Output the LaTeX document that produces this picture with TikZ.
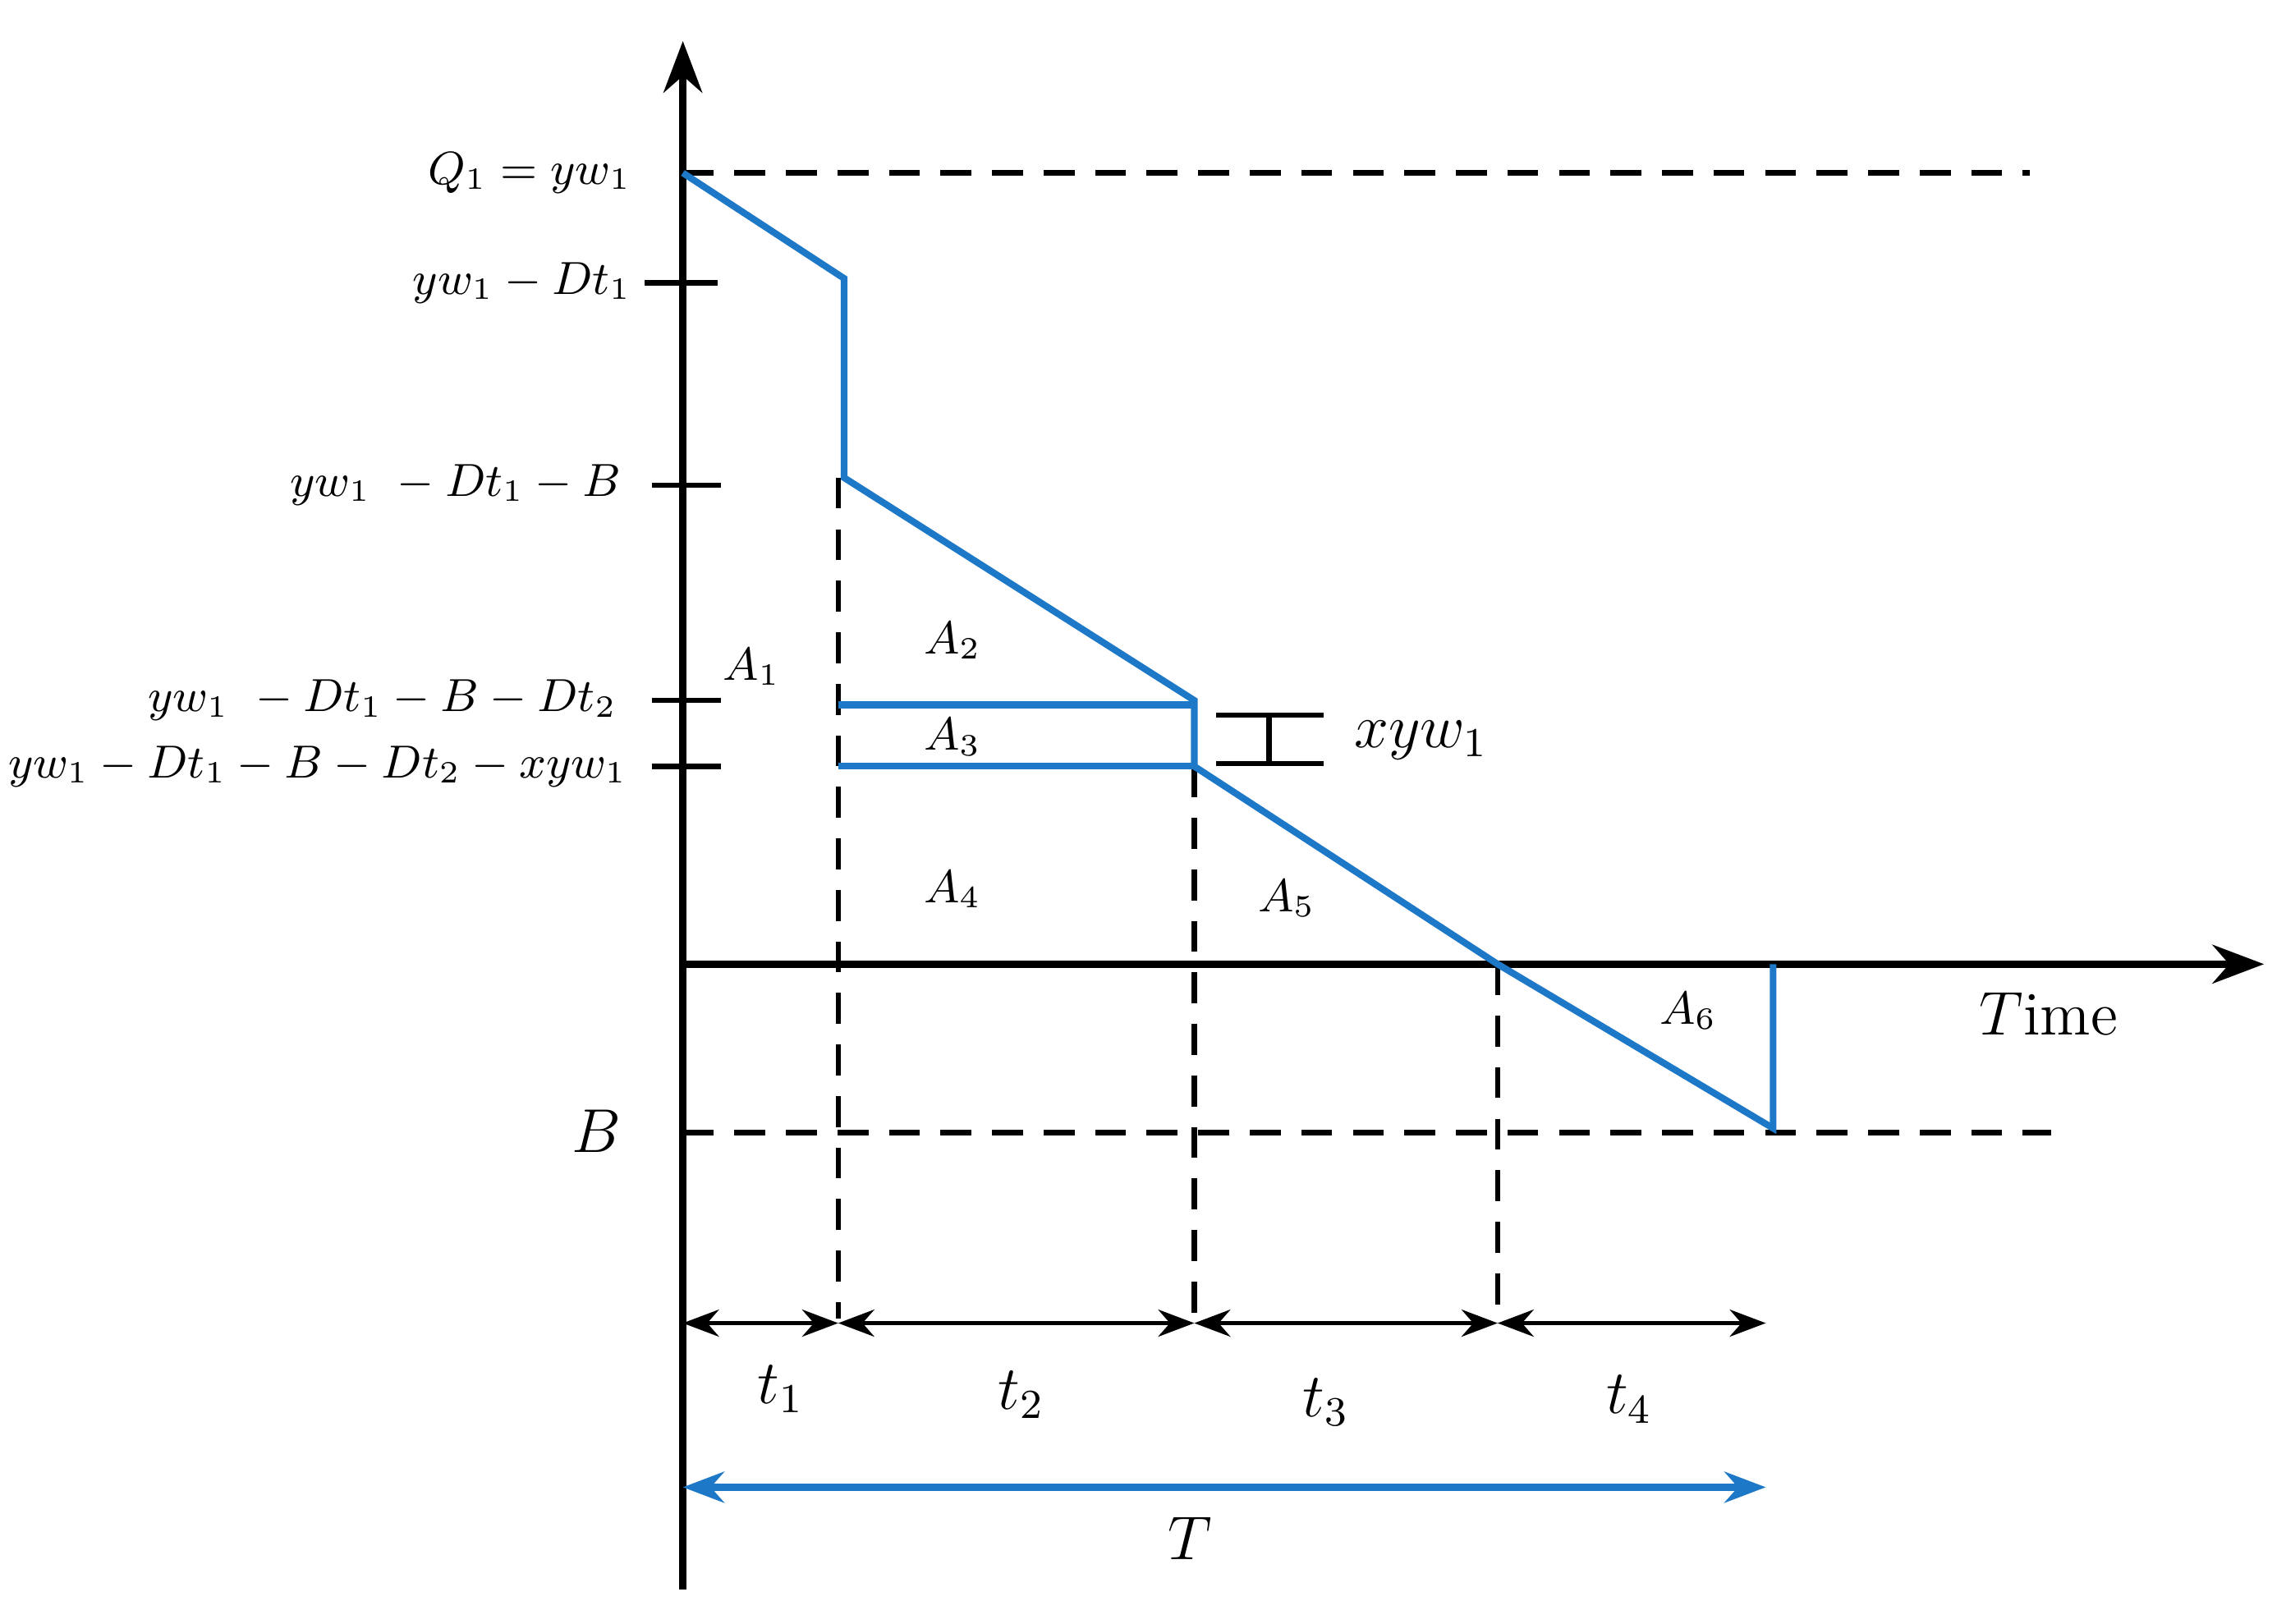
\documentclass[tikz,border=0pt]{standalone}
\usetikzlibrary{arrows.meta}
\begin{document}
\begin{tikzpicture}[x=0.01cm,y=-0.01cm,
  blue line/.style={draw={rgb,255:red,30;green,120;blue,200},line width=1.3pt},
  axis/.style={line width=1.4pt},
  dashline/.style={line width=1pt,dash pattern=on 6pt off 4pt},
  lab/.style={font=\fontsize{9}{10}\selectfont,anchor=east,inner sep=1pt},
  big/.style={font=\fontsize{12}{14}\selectfont}]
\useasboundingbox (0,0) rectangle (1560,1108);
\coordinate (o) at (466,658);
\draw[axis,-{Stealth[length=10pt]}] (466,1085) -- (466,28);
\draw[axis,-{Stealth[length=10pt]}] (466,658) -- (1545,658);
\draw[dashline] (466,118) -- (1385,118);
\draw[dashline] (466,773) -- (1400,773);
\draw[dashline] (572,326) -- (572,900);
\draw[dashline] (815,523) -- (815,900);
\draw[dashline] (1022,658) -- (1022,900);
\coordinate (p0) at (466,118); \coordinate (p1) at (576,190); \coordinate (p2) at (576,326);
\coordinate (p3) at (815,478); \coordinate (p4) at (815,523); \coordinate (p5) at (1022,658);
\coordinate (p6) at (1210,770); \coordinate (p7) at (1210,658);
\draw[blue line] (p0)--(p1)--(p2)--(p3)--(p4)--(p5)--(p6)--(p7);
\draw[blue line] (572,481)--(815,481);
\draw[blue line] (572,523)--(815,523);
\draw[line width=1pt] (440,193)--(490,193) (445,331)--(492,331) (445,478)--(492,478) (445,523)--(492,523);
\draw[line width=1pt] (830,488)--(903,488) (830,521)--(903,521) (866,488)--(866,521);
\node[lab] at (435,118) {$Q_1=yw_1$};
\node[lab] at (435,193) {$yw_1-Dt_1$};
\node[lab] at (428,331) {$yw_1\ -Dt_1-B$};
\node[lab] at (425,478) {$yw_1\ -Dt_1-B-Dt_2$};
\node[lab] at (432,523) {$yw_1-Dt_1-B-Dt_2-xyw_1$};
\node[font=\fontsize{9}{10}\selectfont] at (513,455) {$A_1$};
\node[font=\fontsize{9}{10}\selectfont] at (650,437) {$A_2$};
\node[font=\fontsize{9}{10}\selectfont] at (650,503) {$A_3$};
\node[font=\fontsize{9}{10}\selectfont] at (650,607) {$A_4$};
\node[font=\fontsize{9}{10}\selectfont] at (878,613) {$A_5$};
\node[font=\fontsize{9}{10}\selectfont] at (1152,690) {$A_6$};
\node[big] at (970,505) {$xyw_1$};
\node[big] at (1398,692) {$T$ime};
\node[big] at (407,772) {$B$};
\foreach \a/\b in {466/572,572/815,815/1022,1022/1205}
  \draw[line width=0.8pt,{Stealth[length=7pt]}-{Stealth[length=7pt]}] (\a,903) -- (\b,903);
\draw[blue line,{Stealth[length=8pt]}-{Stealth[length=8pt]}] (466,1015) -- (1205,1015);
\node[big] at (533,948) {$t_1$};
\node[big] at (697,952) {$t_2$};
\node[big] at (905,957) {$t_3$};
\node[big] at (1112,955) {$t_4$};
\node[big] at (812,1050) {$T$};
\end{tikzpicture}
\end{document}
